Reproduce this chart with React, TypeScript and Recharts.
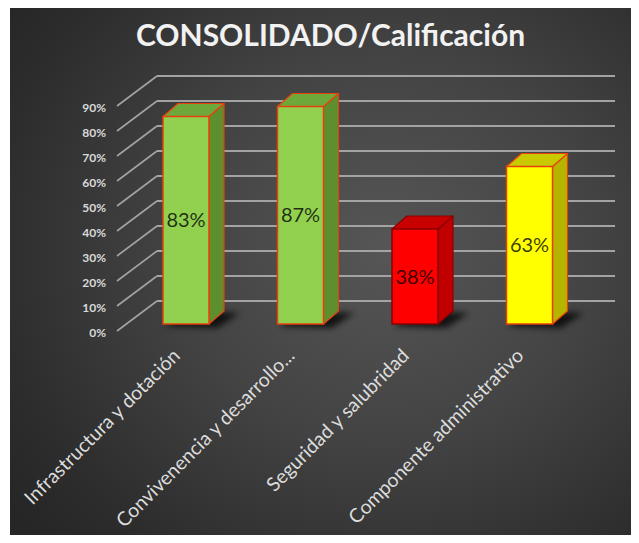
import { BarChart, Bar, XAxis, YAxis, CartesianGrid, LabelList } from "recharts";

const categories = [
  "Infrastructura y dotación",
  "Convivenencia y desarrollo...",
  "Seguridad y salubridad",
  "Componente administrativo",
];
const scores = [83, 87, 38, 63];
const yTicks = [0, 10, 20, 30, 40, 50, 60, 70, 80, 90];

const data = categories.map((name, i) => ({ name, value: scores[i] }));

// front / side / top / outline per bar
const palette = [
  { front: "#92d050", side: "#5e8f2e", top: "#6fa83a", stroke: "#e8400c" },
  { front: "#92d050", side: "#5e8f2e", top: "#6fa83a", stroke: "#e8400c" },
  { front: "#ff0000", side: "#c00000", top: "#c80000", stroke: "#8a0000" },
  { front: "#ffff00", side: "#b5b500", top: "#c9c900", stroke: "#e8400c" },
];

const DX = 15;
const DY = -13;

const Bar3D = (props: any) => {
  const { x, y, width: w, height: h, index } = props;
  const c = palette[index];
  const base = y + h;
  const id = `shd-${index}`;
  return (
    <g>
      <defs>
        <filter id={id} x="-50%" y="-50%" width="200%" height="200%">
          <feGaussianBlur stdDeviation="3" />
        </filter>
      </defs>
      <polygon
        points={`${x + 2},${base + 2} ${x + w + 8},${base + 4} ${x + w + DX + 16},${base + DY + 2} ${x + DX + 6},${base + DY}`}
        fill="#000"
        opacity={0.75}
        filter={`url(#${id})`}
      />
      <polygon
        points={`${x + w},${y} ${x + w + DX},${y + DY} ${x + w + DX},${base + DY} ${x + w},${base}`}
        fill={c.side}
        stroke={c.stroke}
        strokeWidth={1.2}
        strokeLinejoin="round"
      />
      <polygon
        points={`${x},${y} ${x + DX},${y + DY} ${x + w + DX},${y + DY} ${x + w},${y}`}
        fill={c.top}
        stroke={c.stroke}
        strokeWidth={1.2}
        strokeLinejoin="round"
      />
      <rect x={x} y={y} width={w} height={h} fill={c.front} stroke={c.stroke} strokeWidth={1.5} />
    </g>
  );
};

const GridLine = (p: any) => {
  const { x1, x2, y1, index } = p;
  // skip the plot's top edge (no tick there)
  if (Math.abs(y1 - p.y) < 1) return <g key={`gl-${index}`} />;
  const back = y1 - 23;
  return (
    <g key={`gl-${index}`}>
      <line x1={x1 - 12} y1={y1 + 7} x2={x1 + 28} y2={back} stroke="#a3a3a3" strokeWidth={1.6} />
      <line x1={x1 + 28} y1={back} x2={x2 + 28} y2={back} stroke="#a3a3a3" strokeWidth={1.8} />
    </g>
  );
};

const YTick = (p: any) => {
  const { y, payload } = p;
  return (
    <text x={106} y={y + 8} textAnchor="end" dominantBaseline="central" fill="#d9d9d9" fontSize={12} fontWeight={700} fontFamily="Lato, sans-serif">
      {payload.value}%
    </text>
  );
};

const XTick = (p: any) => {
  const { x, y, payload } = p;
  const ax = x - 5;
  const ay = y + 25;
  return (
    <text x={ax} y={ay} transform={`rotate(-45 ${ax} ${ay})`} textAnchor="end" fill="#dcdcdc" fontSize={19.5} fontFamily="Lato, sans-serif">
      {payload.value}
    </text>
  );
};

export default function App() {
  return (
    <div style={{ position: "relative", margin: -8, width: 639, height: 543, background: "#fff", overflow: "hidden" }}>
      <div
        style={{
          position: "absolute",
          left: 10,
          top: 6,
          width: 629,
          height: 537,
          background: "radial-gradient(ellipse 75% 80% at 60% 45%, #565656 0%, #434343 45%, #2c2c2c 85%, #262626 100%)",
        }}
      />
      <div
        style={{
          position: "absolute",
          left: 16,
          top: 16,
          width: 629,
          textAlign: "center",
          color: "#f2f2f2",
          fontFamily: "Lato, sans-serif",
          fontWeight: 700,
          fontSize: 30,
        }}
      >
        CONSOLIDADO/Calificación
      </div>
      <div style={{ position: "absolute", left: 0, top: 0 }}>
        <BarChart width={639} height={543} data={data} margin={{ top: 74, right: 52, bottom: 0, left: 0 }} barSize={46}>
          <CartesianGrid vertical={false} horizontal={GridLine} />
          <YAxis domain={[0, 100]} ticks={yTicks} width={129} axisLine={false} tickLine={false} tick={YTick} />
          <XAxis dataKey="name" height={219} axisLine={false} tickLine={false} tick={XTick} interval={0} />
          <Bar dataKey="value" shape={Bar3D} isAnimationActive={false}>
            <LabelList
              dataKey="value"
              position="center"
              formatter={(v: any) => `${v}%`}
              fill="#000"
              fillOpacity={0.78}
              fontSize={20}
              fontFamily="Lato, sans-serif"
            />
          </Bar>
        </BarChart>
      </div>
    </div>
  );
}
